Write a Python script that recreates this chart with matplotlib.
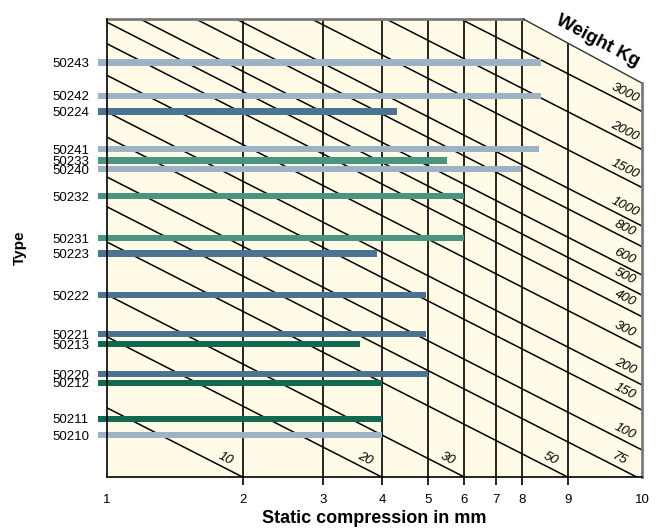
import numpy as np
import matplotlib
matplotlib.use("Agg")
import matplotlib.pyplot as plt
from matplotlib.patches import Polygon
from matplotlib.ticker import FixedLocator, FixedFormatter, NullLocator

plt.rcParams["font.family"] = ["Liberation Sans", "DejaVu Sans"]

# mount types, their row height on the chart and static compression (mm)
types = ["50243", "50242", "50224", "50241", "50233", "50240", "50232", "50231",
         "50223", "50222", "50221", "50213", "50220", "50212", "50211", "50210"]
row_pos = [90.5, 83.2, 79.8, 71.6, 69.1, 67.2, 61.3, 52.1,
           48.8, 39.7, 31.2, 29.0, 22.4, 20.6, 12.7, 9.1]
compression = [8.4, 8.4, 4.3, 8.35, 5.5, 7.95, 6.0, 6.0,
               3.9, 4.95, 4.95, 3.6, 5.0, 4.0, 4.0, 4.0]
series = ["light", "light", "blue", "light", "teal", "light", "teal", "teal",
          "blue", "blue", "blue", "green", "blue", "green", "green", "light"]
bar_start = 0.955

# printed compression scale (mm) and its spacing on the nomogram
scale_mm = [0.9, 1, 2, 3, 4, 5, 6, 7, 8, 9, 10]
scale_pos = [-21, 0, 136, 216, 275, 321, 357, 389, 415, 461, 535]
tick_mm = [1, 2, 3, 4, 5, 6, 7, 8, 9, 10]
grid_mm = [2, 3, 4, 5, 6, 7, 8, 9]

# weight lines: value where each line meets the right edge (chart units)
weights = [10, 20, 30, 50, 75, 100, 150, 200, 300, 400, 500, 600, 800, 1000, 1500, 2000, 3000]
weight_edge = [-44.5, -29.0, -19.8, -8.3, -0.6, 5.9, 14.6, 20.1, 28.1, 35.0,
               39.7, 44.1, 50.3, 54.8, 63.2, 71.5, 79.8]
weight_slope = 59.6  # chart units per axes width

colors = {"light": "#9db2c5", "blue": "#4c7492", "teal": "#4a9580", "green": "#0f6a4f"}
cream = "#fffbe6"

log_mm = np.log10(scale_mm)


def fwd(x):
    x = np.clip(np.asarray(x, dtype=float), 1e-3, None)
    return np.interp(np.log10(x), log_mm, scale_pos)


def inv(p):
    return 10 ** np.interp(np.asarray(p, dtype=float), scale_pos, log_mm)


fig = plt.figure(figsize=(6.62, 5.31), dpi=100)
ax = fig.add_axes([0.1616, 0.1017, 0.8082, 0.8625])
ax.set_xscale("function", functions=(fwd, inv))
ax.set_xlim(1, 10)
ax.set_ylim(0, 100)

# chart area with the cut top-right corner
corner_x, corner_y = 0.778, 0.860
area = Polygon([(0, 0), (1, 0), (1, corner_y), (corner_x, 1), (0, 1)], closed=True,
               transform=ax.transAxes, facecolor=cream, edgecolor="none", zorder=0)
ax.add_patch(area)
ax.set_facecolor("white")

# vertical grid
for m in grid_mm:
    ln, = ax.plot([m, m], [0, 100], color="black", lw=1.2, zorder=1)
    ln.set_clip_path(area)

# diagonal weight lines
xa = np.array([0.0, 1.0])
blend = matplotlib.transforms.blended_transform_factory(ax.transAxes, ax.transData)
for w, c in zip(weights, weight_edge):
    ys = c + weight_slope * (1 - xa)
    ln, = ax.plot(xa, ys, color="black", lw=1.1, transform=blend, zorder=1)
    ln.set_clip_path(area)
    x_end = min(1.0, 1 + c / weight_slope)
    x_lab = x_end - 0.032
    y_lab = c + weight_slope * (1 - x_lab)
    ax.annotate(str(w), (x_lab, y_lab), xycoords=blend, xytext=(0, 10),
                textcoords="offset pixels", rotation=-27, rotation_mode="anchor",
                ha="center", va="center", fontsize=9.5, style="italic", zorder=3)

# bars
for t, y, v, s in zip(types, row_pos, compression, series):
    ax.barh(y, v - bar_start, left=bar_start, height=1.35, color=colors[s],
            edgecolor="none", clip_on=False, zorder=2)

# frame
for s in ["top", "right"]:
    ax.spines[s].set_visible(False)
for s in ["left", "bottom"]:
    ax.spines[s].set_linewidth(1.2)
    ax.spines[s].set_zorder(4)
ax.plot([0, corner_x], [1, 1], color="#7a7a7a", lw=2, transform=ax.transAxes, clip_on=False, zorder=4)
ax.plot([corner_x, 1], [1, corner_y], color="#333333", lw=1, transform=ax.transAxes, clip_on=False, zorder=4)
ax.plot([1, 1], [corner_y, 0], color="#7a7a7a", lw=2, transform=ax.transAxes, clip_on=False, zorder=4)

ax.text(0.918, 0.952, "Weight Kg", transform=ax.transAxes, rotation=-28,
        rotation_mode="anchor", ha="center", va="center", fontsize=13.5, fontweight="bold")

# axes ticks
ax.xaxis.set_major_locator(FixedLocator(tick_mm))
ax.xaxis.set_major_formatter(FixedFormatter([str(t) for t in tick_mm]))
ax.xaxis.set_minor_locator(NullLocator())
ax.tick_params(axis="x", length=6, width=1.2, labelsize=9.5, pad=6)
ticks = ax.xaxis.get_major_ticks()
ticks[0].tick1line.set_visible(False)
ticks[-1].tick1line.set_visible(False)

ax.set_yticks(row_pos)
ax.set_yticklabels(types)
ax.tick_params(axis="y", length=0, labelsize=9.5, pad=13)

ax.set_xlabel("Static compression in mm", fontsize=13, fontweight="bold", labelpad=3)
ax.set_ylabel("Type", fontsize=11, fontweight="bold", labelpad=18)

fig.savefig("out.png", dpi=100)
